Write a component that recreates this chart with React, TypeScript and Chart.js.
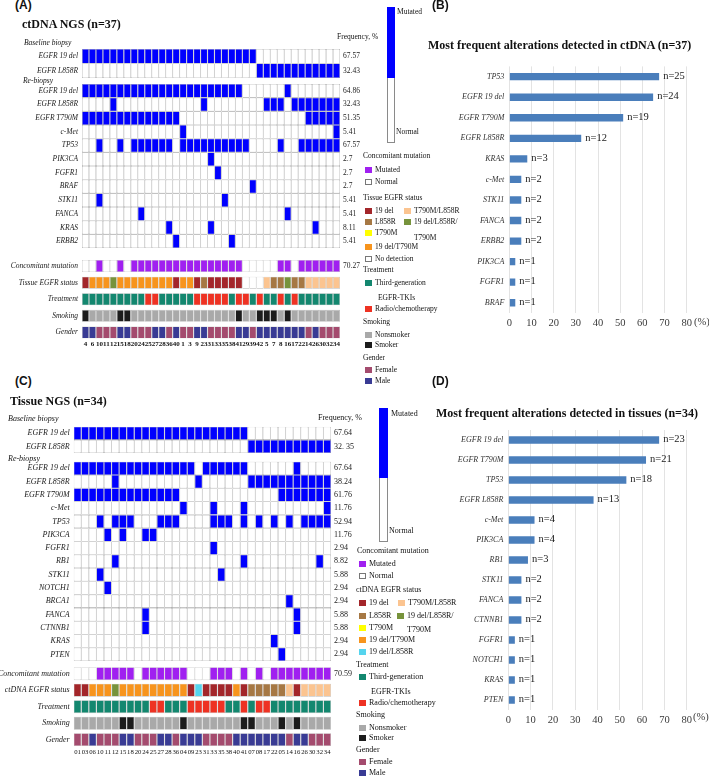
import React, { useEffect, useRef } from 'react';
import { Chart, registerables } from 'chart.js';
Chart.register(...registerables);

const SERIF = "'Liberation Serif', 'DejaVu Serif', serif";
const SANS = "'Liberation Sans', Arial, sans-serif";

// ---------------- Panel A: ctDNA NGS (n=37) ----------------
const ctdnaPatients = ['4', '6', '10', '11', '12', '15', '18', '20', '24', '25', '27', '28', '36', '40', '1', '3', '9', '23', '31', '33', '35', '38', '41', '29', '39', '42', '5', '7', '8', '16', '17', '22', '14', '26', '30', '32', '34'];
const ctdnaBaseGenes = ['EGFR 19 del', 'EGFR L858R'];
const ctdnaBaseFreq = ['67.57', '32.43'];
const ctdnaBaseStatus = [
  '11111 11111 11111 11111 11111 00000 00000 00',
  '00000 00000 00000 00000 00000 11111 11111 11',
];
const ctdnaReGenes = ['EGFR 19 del', 'EGFR L858R', 'EGFR T790M', 'c-Met', 'TP53', 'PIK3CA', 'FGFR1', 'BRAF', 'STK11', 'FANCA', 'KRAS', 'ERBB2'];
const ctdnaReFreq = ['64.86', '32.43', '51.35', '5.41', '67.57', '2.7', '2.7', '2.7', '5.41', '5.41', '8.11', '5.41'];
const ctdnaReStatus = [
  '11111 11111 11111 11111 11100 00001 00000 00',
  '00001 00000 00000 00100 00000 01110 11111 11',
  '11111 11111 11110 00000 00000 00000 00111 11',
  '00000 00000 00001 00000 00000 00000 00000 01',
  '00100 10111 11101 11111 11110 00010 01111 11',
  '00000 00000 00000 00010 00000 00000 00000 00',
  '00000 00000 00000 00001 00000 00000 00000 00',
  '00000 00000 00000 00000 00001 00000 00000 00',
  '00100 00000 00000 00000 10000 00000 00000 00',
  '00000 00010 00000 00000 00000 00001 00000 00',
  '00000 00000 00100 00010 00000 00000 00010 00',
  '00000 00000 00010 00000 01000 00000 00000 00',
];
const ctdnaTrackNames = ['Concomitant mutation', 'Tissue EGFR status', 'Treatment', 'Smoking', 'Gender'];
const ctdnaConcomitantFreq = '70.27';
const ctdnaConcomitant = '00100 10111 11111 11111 11100 00011 01111 11';
const ctdnaEgfrStatus = 'DOOOG OOOOO OOODO ODLDD DDDNN NPLLG LLPPP PP';
const ctdnaTreatment = 'TTTTT TTTTR RTTTT TRRRR RTRRT RTTRT RTTTT TT';
const ctdnaSmoking = 'SNNNN SSNNN NNNNN NNNNN NNSNN SSSNS NNNNN NN';
const ctdnaGender = 'MMFFF MMFFF MMFMF FMMFF FFMMF MMMMM MMFMF FF';

// ---------------- Panel C: Tissue NGS (n=34) ----------------
const tissuePatients = ['01', '03', '06', '10', '11', '12', '15', '18', '20', '24', '25', '27', '28', '36', '04', '09', '23', '31', '33', '35', '38', '40', '41', '07', '08', '17', '22', '05', '14', '16', '26', '30', '32', '34'];
const tissueBaseGenes = ['EGFR 19 del', 'EGFR L858R'];
const tissueBaseFreq = ['67.64', '32. 35'];
const tissueBaseStatus = [
  '11111 11111 11111 11111 11100 00000 0000',
  '00000 00000 00000 00000 00011 11111 1111',
];
const tissueReGenes = ['EGFR 19 del', 'EGFR L858R', 'EGFR T790M', 'c-Met', 'TP53', 'PIK3CA', 'FGFR1', 'RB1', 'STK11', 'NOTCH1', 'BRCA1', 'FANCA', 'CTNNB1', 'KRAS', 'PTEN'];
const tissueReFreq = ['67.64', '38.24', '61.76', '11.76', '52.94', '11.76', '2.94', '8.82', '5.88', '2.94', '2.94', '5.88', '5.88', '2.94', '2.94'];
const tissueReStatus = [
  '11111 11111 11111 10111 11100 00001 0000',
  '00000 10000 00000 01000 00011 11111 1111',
  '11111 11111 11110 00000 00000 00111 1111',
  '00000 00000 00001 00010 00100 00000 0001',
  '00010 11100 01110 00011 10101 01010 1111',
  '00001 01001 10000 00000 00000 00000 0000',
  '00000 00000 00000 00010 00000 00000 0000',
  '00000 10000 00000 00000 00100 00000 0010',
  '00010 00000 00000 00001 00000 00000 0000',
  '00001 00000 00000 00000 00000 00000 0000',
  '00000 00000 00000 00000 00000 00010 0000',
  '00000 00001 00000 00000 00000 00001 0000',
  '00000 00001 00000 00000 00000 00001 0000',
  '00000 00000 00000 00000 00000 01000 0000',
  '00000 00000 00000 00000 00000 00100 0000',
];
const tissueTrackNames = ['Concomitant mutation', 'ctDNA EGFR status', 'Treatment', 'Smoking', 'Gender'];
const tissueConcomitantFreq = '70.59';
const tissueConcomitant = '00011 11101 11111 00011 10101 01111 1111';
const tissueEgfrStatus = 'DDOOO GOOOO OOOOO DCDDD DODLL LLLPD PPPP';
const tissueTreatment = 'TTTTT TTTTT RRTTT RRRRR TTRTR RTTTT TTTT';
const tissueSmoking = 'NNNNN NSSNN NNNNS NNNNN NNSSN NNSNS NNNN';
const tissueGender = 'FFMFF FMMFF FMMFM MMFFF FMMMM MMMFM MFFF';

// ---------------- Panel B ----------------
const ctdnaBarGenes = ['TP53', 'EGFR 19 del', 'EGFR T790M', 'EGFR L858R', 'KRAS', 'c-Met', 'STK11', 'FANCA', 'ERBB2', 'PIK3CA', 'FGFR1', 'BRAF'];
const ctdnaBarPct = [67.57, 64.86, 51.35, 32.43, 8.11, 5.41, 5.41, 5.41, 5.41, 2.7, 2.7, 2.7];
const ctdnaBarCounts = [25, 24, 19, 12, 3, 2, 2, 2, 2, 1, 1, 1];

// ---------------- Panel D ----------------
const tissueBarGenes = ['EGFR 19 del', 'EGFR T790M', 'TP53', 'EGFR L858R', 'c-Met', 'PIK3CA', 'RB1', 'STK11', 'FANCA', 'CTNNB1', 'FGFR1', 'NOTCH1', 'KRAS', 'PTEN'];
const tissueBarPct = [67.64, 61.76, 52.94, 38.24, 11.76, 11.76, 8.82, 5.88, 5.88, 5.88, 2.94, 2.94, 2.94, 2.94];
const tissueBarCounts = [23, 21, 18, 13, 4, 4, 3, 2, 2, 2, 1, 1, 1, 1];

const barTicks = [0, 10, 20, 30, 40, 50, 60, 70, 80];

// ---------------- palettes ----------------
const MUT_COLORS: Record<string, string> = { '1': '#0000ff', '0': '#ffffff' };
const CONC_COLORS: Record<string, string> = { '1': '#a020f0', '0': '#ffffff' };
const EGFR_COLORS: Record<string, string> = { D: '#a3262a', L: '#a67844', T: '#ffff00', O: '#f7941d', G: '#77933c', P: '#fbc490', C: '#55d4ee', N: '#ffffff' };
const TREAT_COLORS: Record<string, string> = { T: '#13876f', R: '#ee3223' };
const SMOKE_COLORS: Record<string, string> = { N: '#a9a9a9', S: '#1c1c1c' };
const GENDER_COLORS: Record<string, string> = { F: '#a44b6e', M: '#393b94' };
const BAR_BLUE = '#4a7ebb';

const cells = (s: string) => s.replace(/\s/g, '').split('');

type Row = { h: number; label?: string; freq?: string; codes?: string[]; palette?: Record<string, string>; line?: string };

function buildRows(d: any, L: any): Row[] {
  const rows: Row[] = [];
  d.baseGenes.forEach((g: string, i: number) =>
    rows.push({ h: L.baseRow, label: g, freq: d.baseFreq[i], codes: cells(d.baseStatus[i]), palette: MUT_COLORS, line: '#9a9a9a' }));
  rows.push({ h: L.baseGap });
  d.reGenes.forEach((g: string, i: number) =>
    rows.push({ h: L.reRow, label: g, freq: d.reFreq[i], codes: cells(d.reStatus[i]), palette: MUT_COLORS, line: '#9a9a9a' }));
  rows.push({ h: L.trackGap0 });
  const tracks = [
    { codes: cells(d.conc), palette: CONC_COLORS, freq: d.concFreq },
    { codes: cells(d.egfr), palette: EGFR_COLORS, freq: '' },
    { codes: cells(d.treat), palette: TREAT_COLORS, freq: '' },
    { codes: cells(d.smoke), palette: SMOKE_COLORS, freq: '' },
    { codes: cells(d.gender), palette: GENDER_COLORS, freq: '' },
  ];
  tracks.forEach((t, i) => {
    if (i) rows.push({ h: L.trackGap });
    rows.push({ h: L.trackRow, label: d.trackNames[i], freq: t.freq, codes: t.codes, palette: t.palette, line: '#b8b8b8' });
  });
  return rows;
}

function OncoPrint({ d, L }: { d: any; L: any }) {
  const ref = useRef<HTMLCanvasElement>(null);
  useEffect(() => {
    const rows = buildRows(d, L);
    const total = rows.reduce((s, r) => s + r.h, 0);
    const centers: number[] = [];
    const leftLabels: string[] = [];
    const rightLabels: string[] = [];
    let acc = 0;
    rows.forEach((r) => {
      if (r.label !== undefined) {
        centers.push(acc + r.h / 2);
        leftLabels.push(r.label);
        rightLabels.push(r.freq || '');
      }
      acc += r.h;
    });
    const bottomH = L.height - L.padTop - total;
    const datasets = rows.map((r) => ({
      data: d.patients.map(() => r.h),
      backgroundColor: r.codes ? r.codes.map((c) => r.palette![c]) : 'rgba(0,0,0,0)',
      borderColor: r.codes ? r.line : 'rgba(0,0,0,0)',
      borderWidth: r.codes ? 0.55 : 0,
      borderSkipped: false as const,
      barPercentage: 1,
      categoryPercentage: 1,
      inflateAmount: 0,
    }));
    const yCommon = (labels: string[], position: 'left' | 'right', width: number, font: any, pad: number) => ({
      type: 'linear' as const,
      position,
      stacked: true,
      reverse: true,
      min: 0,
      max: total,
      grid: { display: false, drawTicks: false },
      border: { display: false },
      afterBuildTicks: (s: any) => { s.ticks = centers.map((v) => ({ value: v })); },
      afterFit: (s: any) => { s.width = width; },
      ticks: { autoSkip: false, padding: pad, color: '#1a1a1a', font, callback: (_v: any, i: number) => labels[i] },
    });
    const chart = new Chart(ref.current!, {
      type: 'bar',
      data: { labels: d.patients, datasets: datasets as any },
      options: {
        animation: false,
        responsive: false,
        maintainAspectRatio: false,
        events: [],
        layout: { padding: { top: L.padTop, left: 0, right: 0, bottom: 0 } },
        plugins: { legend: { display: false }, tooltip: { enabled: false }, title: { display: false } },
        scales: {
          x: {
            type: 'category',
            stacked: true,
            grid: { display: false, drawTicks: false },
            border: { display: false },
            afterFit: (s: any) => { s.height = bottomH; },
            ticks: { autoSkip: false, maxRotation: 0, minRotation: 0, padding: L.xPad, color: '#111', font: L.xFont },
          },
          y: yCommon(leftLabels, 'left', L.leftW, { family: SERIF, size: L.labelSize, style: 'italic' }, 4) as any,
          y2: yCommon(rightLabels, 'right', L.rightW, { family: SERIF, size: L.freqSize }, 3) as any,
        },
      },
    });
    return () => chart.destroy();
  }, []);
  return (
    <canvas ref={ref} width={L.width} height={L.height}
      style={{ position: 'absolute', left: L.left, top: L.top, width: L.width, height: L.height }} />
  );
}

function BarPanel({ genes, pct, counts, L }: { genes: string[]; pct: number[]; counts: number[]; L: any }) {
  const ref = useRef<HTMLCanvasElement>(null);
  useEffect(() => {
    const nLabels = {
      id: 'nLabels',
      afterDatasetsDraw(chart: any) {
        const ctx = chart.ctx;
        const meta = chart.getDatasetMeta(0);
        ctx.save();
        ctx.font = `10.5px ${SERIF}`;
        ctx.fillStyle = '#1a1a1a';
        ctx.textBaseline = 'middle';
        ctx.textAlign = 'left';
        meta.data.forEach((el: any, i: number) => ctx.fillText('n=' + counts[i], el.x + 4, el.y - 0.5));
        ctx.restore();
      },
    };
    const chart = new Chart(ref.current!, {
      type: 'bar',
      data: { labels: genes, datasets: [{ data: pct, backgroundColor: BAR_BLUE, barPercentage: L.barPct, categoryPercentage: 1 }] },
      options: {
        indexAxis: 'y',
        animation: false,
        responsive: false,
        maintainAspectRatio: false,
        events: [],
        layout: { padding: { top: L.padTop, right: L.padRight, left: 0, bottom: 0 } },
        plugins: { legend: { display: false }, tooltip: { enabled: false } },
        scales: {
          x: {
            type: 'linear',
            min: 0,
            max: 80,
            afterBuildTicks: (s: any) => { s.ticks = barTicks.map((v) => ({ value: v })); },
            afterFit: (s: any) => { s.height = L.bottomH; },
            grid: { color: '#e3e3e3', lineWidth: 1, drawTicks: false },
            border: { display: false },
            ticks: { padding: 4, color: '#3a3a3a', font: { family: SERIF, size: 10.5 } },
          },
          y: {
            grid: { display: false, drawTicks: false },
            border: { display: false },
            afterFit: (s: any) => { s.width = L.leftW; },
            ticks: { padding: 5, color: '#333', font: { family: SERIF, size: 8, style: 'italic' } },
          },
        },
      },
      plugins: [nLabels],
    });
    return () => chart.destroy();
  }, []);
  return (
    <canvas ref={ref} width={L.width} height={L.height}
      style={{ position: 'absolute', left: L.left, top: L.top, width: L.width, height: L.height }} />
  );
}

function Txt({ x, y, s, size, italic, bold, family, color }: any) {
  return (
    <div style={{
      position: 'absolute', left: x, top: y - size * 0.56, fontSize: size, lineHeight: `${size}px`,
      fontFamily: family || SERIF, fontStyle: italic ? 'italic' : 'normal', fontWeight: bold ? 700 : 400,
      whiteSpace: 'nowrap', color: color || '#111',
    }}>{s}</div>
  );
}

type LegendEntry = [string, string, number, number, string?];
// [kind, text, x, y, colour]

function Legend({ entries, size, sw, textOff }: { entries: LegendEntry[]; size: number; sw: number; textOff: number }) {
  return (
    <>
      {entries.map(([kind, text, x, y, col], i) => {
        if (kind === 'item') {
          return (
            <React.Fragment key={i}>
              <div style={{
                position: 'absolute', left: x, top: y - sw / 2, width: sw, height: sw, boxSizing: 'border-box',
                background: col, border: col === '#ffffff' ? '1px solid #777' : 'none',
              }} />
              <Txt x={x + textOff} y={y} s={text} size={size} />
            </React.Fragment>
          );
        }
        return <Txt key={i} x={x} y={y} s={text} size={size} />;
      })}
    </>
  );
}

function ScaleBar({ x, y, w, h, blueH, top, bottom, size }: any) {
  return (
    <>
      <div style={{ position: 'absolute', left: x, top: y, width: w, height: h, boxSizing: 'border-box', border: '1px solid #8a8a8a', background: '#fff' }} />
      <div style={{ position: 'absolute', left: x, top: y, width: w, height: blueH, background: '#0000ff' }} />
      <Txt x={top[0]} y={top[1]} s="Mutated" size={size} />
      <Txt x={bottom[0]} y={bottom[1]} s="Normal" size={size} />
    </>
  );
}

const ctdnaData = {
  patients: ctdnaPatients, baseGenes: ctdnaBaseGenes, baseFreq: ctdnaBaseFreq, baseStatus: ctdnaBaseStatus,
  reGenes: ctdnaReGenes, reFreq: ctdnaReFreq, reStatus: ctdnaReStatus, trackNames: ctdnaTrackNames,
  conc: ctdnaConcomitant, concFreq: ctdnaConcomitantFreq, egfr: ctdnaEgfrStatus, treat: ctdnaTreatment,
  smoke: ctdnaSmoking, gender: ctdnaGender,
};
const tissueData = {
  patients: tissuePatients, baseGenes: tissueBaseGenes, baseFreq: tissueBaseFreq, baseStatus: tissueBaseStatus,
  reGenes: tissueReGenes, reFreq: tissueReFreq, reStatus: tissueReStatus, trackNames: tissueTrackNames,
  conc: tissueConcomitant, concFreq: tissueConcomitantFreq, egfr: tissueEgfrStatus, treat: tissueTreatment,
  smoke: tissueSmoking, gender: tissueGender,
};

const layoutA = {
  left: 0, top: 40, width: 385, height: 315, padTop: 9, leftW: 82, rightW: 45,
  baseRow: 14.5, baseGap: 6, reRow: 13.67, trackGap0: 12, trackRow: 12, trackGap: 4.6,
  xPad: 2, xFont: { family: SERIF, size: 7, weight: 'bold' }, labelSize: 7.5, freqSize: 7.5,
};
const layoutC = {
  left: 0, top: 415, width: 380, height: 350, padTop: 11.7, leftW: 73.7, rightW: 49,
  baseRow: 13.2, baseGap: 8.6, reRow: 13.29, trackGap0: 6.1, trackRow: 13, trackGap: 3.5,
  xPad: 2, xFont: { family: SERIF, size: 6.7 }, labelSize: 8, freqSize: 8,
};
const layoutB = { left: 400, top: 55, width: 309, height: 280, padTop: 11.4, padRight: 22.3, leftW: 109.3, bottomH: 22, barPct: 0.36 };
const layoutD = { left: 400, top: 420, width: 309, height: 315, padTop: 10, padRight: 22.3, leftW: 108.3, bottomH: 25, barPct: 0.365 };

const legendA: LegendEntry[] = [
  ['head', 'Concomitant mutation', 363, 156],
  ['item', 'Mutated', 365, 170, CONC_COLORS['1']],
  ['item', 'Normal', 365, 182, '#ffffff'],
  ['head', 'Tissue EGFR status', 363, 198],
  ['item', '19 del', 365, 211, EGFR_COLORS.D],
  ['item', 'T790M/L858R', 404, 211, EGFR_COLORS.P],
  ['item', 'L858R', 365, 222, EGFR_COLORS.L],
  ['item', '19 del/L858R/', 404, 222, EGFR_COLORS.G],
  ['text', 'T790M', 414, 238],
  ['item', 'T790M', 365, 233, EGFR_COLORS.T],
  ['item', '19 del/T790M', 365, 247, EGFR_COLORS.O],
  ['item', 'No detection', 365, 259, '#ffffff'],
  ['head', 'Treatment', 363, 270],
  ['item', 'Third-generation', 365, 283, TREAT_COLORS.T],
  ['text', 'EGFR-TKIs', 378, 298],
  ['item', 'Radio/chemotherapy', 365, 309, TREAT_COLORS.R],
  ['head', 'Smoking', 363, 322],
  ['item', 'Nonsmoker', 365, 335, SMOKE_COLORS.N],
  ['item', 'Smoker', 365, 345, SMOKE_COLORS.S],
  ['head', 'Gender', 363, 358],
  ['item', 'Female', 365, 370, GENDER_COLORS.F],
  ['item', 'Male', 365, 381, GENDER_COLORS.M],
];
const legendC: LegendEntry[] = [
  ['head', 'Concomitant mutation', 357, 551],
  ['item', 'Mutated', 359, 564, CONC_COLORS['1']],
  ['item', 'Normal', 359, 576, '#ffffff'],
  ['head', 'ctDNA EGFR status', 356, 590],
  ['item', '19 del', 359, 603, EGFR_COLORS.D],
  ['item', 'T790M/L858R', 398, 603, EGFR_COLORS.P],
  ['item', 'L858R', 359, 616, EGFR_COLORS.L],
  ['item', '19 del/L858R/', 397, 616, EGFR_COLORS.G],
  ['text', 'T790M', 407, 630],
  ['item', 'T790M', 359, 628, EGFR_COLORS.T],
  ['item', '19 del/T790M', 359, 640, EGFR_COLORS.O],
  ['item', '19 del/L858R', 359, 652, EGFR_COLORS.C],
  ['head', 'Treatment', 356, 665],
  ['item', 'Third-generation', 359, 677, TREAT_COLORS.T],
  ['text', 'EGFR-TKIs', 371, 692],
  ['item', 'Radio/chemotherapy', 359, 703, TREAT_COLORS.R],
  ['head', 'Smoking', 356, 715],
  ['item', 'Nonsmoker', 359, 728, SMOKE_COLORS.N],
  ['item', 'Smoker', 359, 738, SMOKE_COLORS.S],
  ['head', 'Gender', 356, 750],
  ['item', 'Female', 359, 762, GENDER_COLORS.F],
  ['item', 'Male', 359, 773, GENDER_COLORS.M],
];

export default function App() {
  return (
    <div style={{ position: 'fixed', left: 0, top: 0, width: 709, height: 777, background: '#fff', overflow: 'hidden', color: '#111' }}>
      <OncoPrint d={ctdnaData} L={layoutA} />
      <BarPanel genes={ctdnaBarGenes} pct={ctdnaBarPct} counts={ctdnaBarCounts} L={layoutB} />
      <OncoPrint d={tissueData} L={layoutC} />
      <BarPanel genes={tissueBarGenes} pct={tissueBarPct} counts={tissueBarCounts} L={layoutD} />

      {/* Panel A */}
      <Txt x={15} y={6} s="(A)" size={12} bold family={SANS} />
      <Txt x={22} y={25} s="ctDNA NGS (n=37)" size={12} bold />
      <Txt x={24} y={43} s="Baseline biopsy" size={7.5} italic />
      <Txt x={23} y={81} s="Re-biopsy" size={7.5} italic />
      <Txt x={337} y={37} s="Frequency, %" size={7.5} />
      <ScaleBar x={387} y={7} w={8} h={136} blueH={71} top={[397, 12]} bottom={[396, 132]} size={7.5} />
      <Legend entries={legendA} size={7.5} sw={6.5} textOff={10} />

      {/* Panel B */}
      <Txt x={432} y={6} s="(B)" size={12} bold family={SANS} />
      <Txt x={428} y={46} s="Most frequent alterations detected in ctDNA (n=37)" size={12} bold />
      <Txt x={694} y={323} s="(%)" size={10.5} color="#3a3a3a" />

      {/* Panel C */}
      <Txt x={15} y={382} s="(C)" size={12} bold family={SANS} />
      <Txt x={10} y={402} s="Tissue NGS (n=34)" size={12} bold />
      <Txt x={8} y={419} s="Baseline biopsy" size={8} italic />
      <Txt x={8} y={459} s="Re-biopsy" size={8} italic />
      <Txt x={318} y={418} s="Frequency, %" size={8} />
      <ScaleBar x={379} y={408} w={9} h={134} blueH={70} top={[391, 414]} bottom={[389, 531]} size={8} />
      <Legend entries={legendC} size={8} sw={6.7} textOff={10} />

      {/* Panel D */}
      <Txt x={432} y={382} s="(D)" size={12} bold family={SANS} />
      <Txt x={436} y={414} s="Most frequent alterations detected in tissues (n=34)" size={12} bold />
      <Txt x={693} y={718} s="(%)" size={10.5} color="#3a3a3a" />
    </div>
  );
}
